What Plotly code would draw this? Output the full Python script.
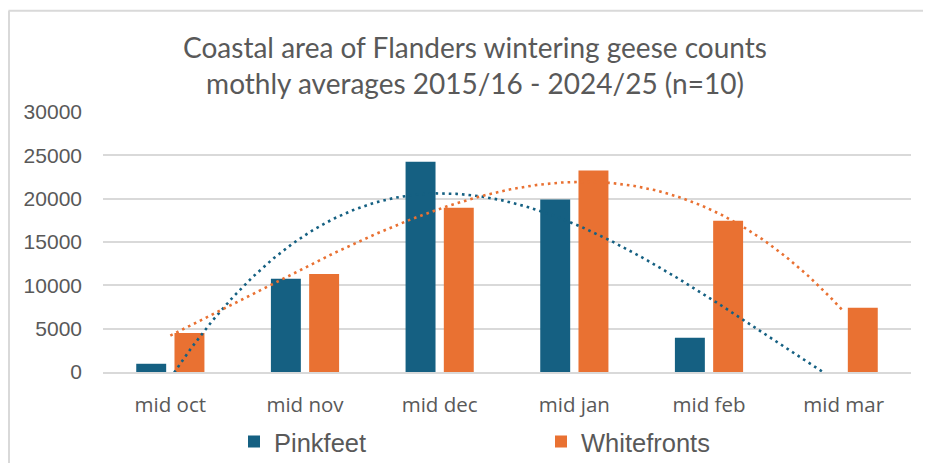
import numpy as np
import plotly.graph_objects as go

# ---- data ----
categories = ["mid oct", "mid nov", "mid dec", "mid jan", "mid feb", "mid mar"]
pinkfeet = [950, 10750, 24250, 19900, 3950, 0]
whitefronts = [4500, 11300, 18950, 23250, 17450, 7400]
y_ticks = [0, 5000, 10000, 15000, 20000, 25000, 30000]
title_lines = ["Coastal area of Flanders wintering geese counts",
               "mothly averages 2015/16 - 2024/25 (n=10)"]

BLUE = "#156082"
ORANGE = "#E97132"
GREY_TXT = "#595959"
GRID = "#D9D9D9"

# page has an 8px body margin, so the figure is drawn 8px in from the corner
OFF = 8
W, H = 931 - 2 * OFF, 471 - 2 * OFF
ML, MT = 103 - OFF, 112.3 - OFF
MR = W - (911 - OFF)
MB = H - (372.5 - OFF)
PW, PH = W - ML - MR, H - MT - MB

xi = np.arange(len(categories))

def trend(values, deg=3):
    coef = np.polyfit(xi, values, deg)
    xs = np.linspace(xi[0], xi[-1], 300)
    return xs, np.polyval(coef, xs)

fig = go.Figure()
fig.add_bar(x=xi, y=pinkfeet, name="Pinkfeet", marker=dict(color=BLUE, line=dict(width=0)))
fig.add_bar(x=xi, y=whitefronts, name="Whitefronts", marker=dict(color=ORANGE, line=dict(width=0)))

for vals, col in ((pinkfeet, BLUE), (whitefronts, ORANGE)):
    tx, ty = trend(vals)
    fig.add_scatter(x=tx, y=ty, mode="lines", showlegend=False, hoverinfo="skip",
                    line=dict(color=col, width=2.6, dash="2.6px,4px"))

def px2paper_x(px):  # px in page coords
    return (px - OFF - ML) / PW

def px2paper_y(py):
    return (H - MB - (py - OFF)) / PH

fig.update_layout(
    width=W, height=H,
    margin=dict(l=ML, r=MR, t=MT, b=MB, autoexpand=False),
    paper_bgcolor="white", plot_bgcolor="white",
    barmode="group", bargap=0.432, bargroupgap=0.217,
    title=dict(text="<br>".join(title_lines), x=(475 - OFF) / W, xanchor="center",
               xref="container", yref="container", y=1 - 50 / H, yanchor="top",
               font=dict(family="Lato, Open Sans, sans-serif", size=28, color=GREY_TXT)),
    xaxis=dict(range=[-0.5, len(categories) - 0.5], tickvals=list(xi), ticktext=categories,
               showgrid=False, zeroline=False, showline=True, linecolor=GRID, linewidth=2,
               ticks="", ticklabelstandoff=13,
               tickfont=dict(family="Open Sans, sans-serif", size=20.5, color=GREY_TXT)),
    yaxis=dict(range=[0, 30000], tickvals=y_ticks, tickformat="d", showgrid=True,
               gridcolor=GRID, gridwidth=2,
               zeroline=False, showline=False, ticks="", ticklabelstandoff=20,
               tickfont=dict(family="Liberation Sans, Arial, sans-serif", size=21, color=GREY_TXT)),
    legend=dict(orientation="h", xref="container", yref="container",
                x=(234 - OFF) / W, xanchor="left", y=1 - (442 - OFF) / H, yanchor="middle",
                entrywidth=262, traceorder="normal",
                font=dict(family="Liberation Sans, Arial, sans-serif", size=25.5, color=GREY_TXT)),
    shapes=[
        dict(type="line", xref="paper", yref="paper", x0=px2paper_x(8.5), x1=px2paper_x(940),
             y0=px2paper_y(11), y1=px2paper_y(11), line=dict(color=GRID, width=2), layer="below"),
        dict(type="line", xref="paper", yref="paper", x0=px2paper_x(9), x1=px2paper_x(9),
             y0=px2paper_y(11), y1=px2paper_y(480), line=dict(color=GRID, width=2), layer="below"),
    ],
)

fig.write_html("out.html")
